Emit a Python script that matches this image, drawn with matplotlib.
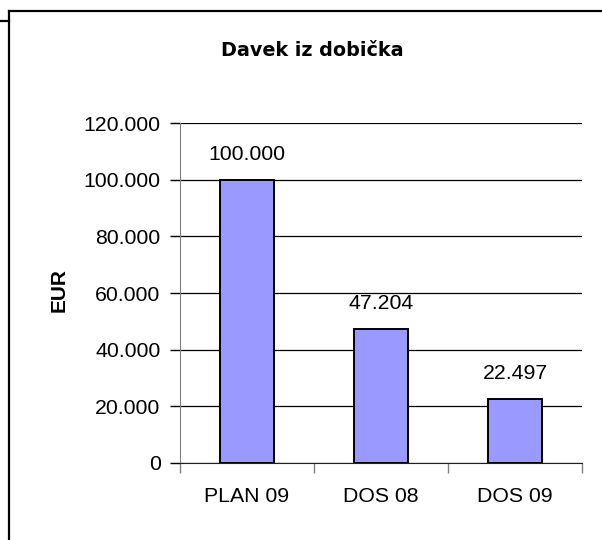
import matplotlib.pyplot as plt
from matplotlib.lines import Line2D
from matplotlib.ticker import FuncFormatter, FixedLocator

categories = ["PLAN 09", "DOS 08", "DOS 09"]
values = [100000, 47204, 22497]
y_ticks = [0, 20000, 40000, 60000, 80000, 100000, 120000]


def thousands(v, _pos=None):
    return f"{int(v):,}".replace(",", ".")


plt.rcParams["font.family"] = ["Liberation Sans", "DejaVu Sans"]

fig = plt.figure(figsize=(6.02, 5.40), dpi=100)
fig.patch.set_facecolor("white")
ax = fig.add_axes([0.299, 0.1426, 0.6678, 0.6296])

positions = range(len(categories))
ax.bar(positions, values, width=0.40, color="#9999FF", edgecolor="black",
       linewidth=1.4, zorder=3)

for x, v in zip(positions, values):
    ax.annotate(thousands(v), (x, v), xytext=(0, 14.5), textcoords="offset points",
                ha="center", va="baseline", fontsize=15.3, color="black")

ax.set_xlim(-0.5, 2.5)
ax.set_ylim(0, 120000)
ax.yaxis.set_major_locator(FixedLocator(y_ticks))
ax.yaxis.set_major_formatter(FuncFormatter(thousands))
ax.grid(axis="y", color="black", linewidth=0.9, zorder=0)

# category labels centred, ticks sit on the category boundaries
ax.set_xticks(list(positions))
ax.set_xticklabels(categories, fontsize=15.3)
ax.set_xticks([-0.5, 0.5, 1.5, 2.5], minor=True)
ax.tick_params(axis="x", which="major", length=0, pad=17)
ax.tick_params(axis="x", which="minor", length=7, width=1, color="#808080")
ax.tick_params(axis="y", length=7, width=1, color="black", pad=7, labelsize=15.3)

for side in ("top", "right"):
    ax.spines[side].set_visible(False)
ax.spines["left"].set_color("#808080")
ax.spines["bottom"].set_color("#202020")

fig.text(59 / 602, 1 - 290 / 540, "EUR", ha="center", va="center", rotation=90,
         fontsize=15, fontweight="bold")

fig.text(312 / 602, 1 - 51 / 540, "Davek iz dobička", ha="center", va="center",
         fontsize=13.8, fontweight="bold", family="DejaVu Sans")

# chart frame
fig.add_artist(Line2D([9 / 602, 9 / 602], [0, 1 - 11 / 540], color="black",
                      linewidth=1.6, transform=fig.transFigure))
fig.add_artist(Line2D([9 / 602, 1], [1 - 11 / 540, 1 - 11 / 540], color="black",
                      linewidth=1.6, transform=fig.transFigure))
fig.add_artist(Line2D([0, 9 / 602], [1 - 21 / 540, 1 - 21 / 540], color="black",
                      linewidth=1.6, transform=fig.transFigure))

fig.savefig("out.png", dpi=100)
